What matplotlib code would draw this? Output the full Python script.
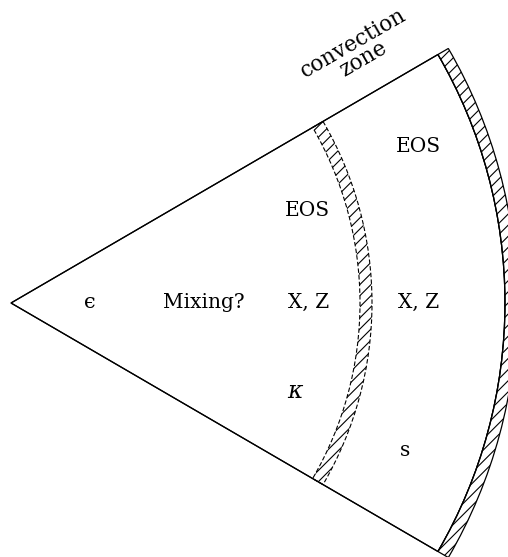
import matplotlib
matplotlib.use("Agg")
import matplotlib.pyplot as plt
from matplotlib.patches import Wedge

plt.rcParams['hatch.linewidth'] = 0.8
plt.rcParams['mathtext.fontset'] = 'dejavuserif'

# diagram geometry (pixel units of the 508x557 canvas)
apex = (11, 303)
half_angle = 30.2
r_outer = 494
outer_band = (494, 506)
inner_band = (349, 361)

# labels
region_labels = ["\u03f5", "Mixing?", "EOS", "X, Z", "$\\kappa$", "EOS", "X, Z", "s"]
label_xy = [(90, 302), (204, 302), (307, 210), (309, 302), (296, 392), (418, 147), (419, 302), (405, 450)]
label_size = [15, 14.5, 14.5, 14.5, 17, 14.5, 14.5, 14.5]
title_lines = ["convection", "zone"]
title_xy = [(353, 43), (363, 59)]

fig = plt.figure(figsize=(5.08, 5.57), dpi=100)
ax = fig.add_axes([0, 0, 1, 1])
ax.set_xlim(0, 508)
ax.set_ylim(557, 0)
ax.set_aspect('equal')
ax.axis('off')

# main sector outline
ax.add_patch(Wedge(apex, r_outer, -half_angle, half_angle, fill=False,
                   edgecolor='black', lw=0.9))
# outer hatched band (convection zone)
ax.add_patch(Wedge(apex, outer_band[1], -half_angle, half_angle,
                   width=outer_band[1] - outer_band[0], facecolor='white',
                   edgecolor='black', hatch='///', lw=0.9))
# inner dashed hatched band
ax.add_patch(Wedge(apex, inner_band[1], -half_angle, half_angle,
                   width=inner_band[1] - inner_band[0], facecolor='none',
                   edgecolor='black', hatch='///', lw=0.8, linestyle=(0, (4, 2))))
# redraw radial edges over bands
ax.add_patch(Wedge(apex, r_outer, -half_angle, half_angle, fill=False,
                   edgecolor='black', lw=0.9))

for txt, (x, y), fs in zip(region_labels, label_xy, label_size):
    ax.text(x, y, txt, ha='center', va='center', fontsize=fs,
            family=['DejaVu Serif', 'DejaVu Sans'])

for txt, (x, y) in zip(title_lines, title_xy):
    ax.text(x, y, txt, ha='center', va='center', fontsize=15.5,
            family='DejaVu Serif', rotation=30, rotation_mode='anchor')

fig.savefig('out.png', dpi=100)
